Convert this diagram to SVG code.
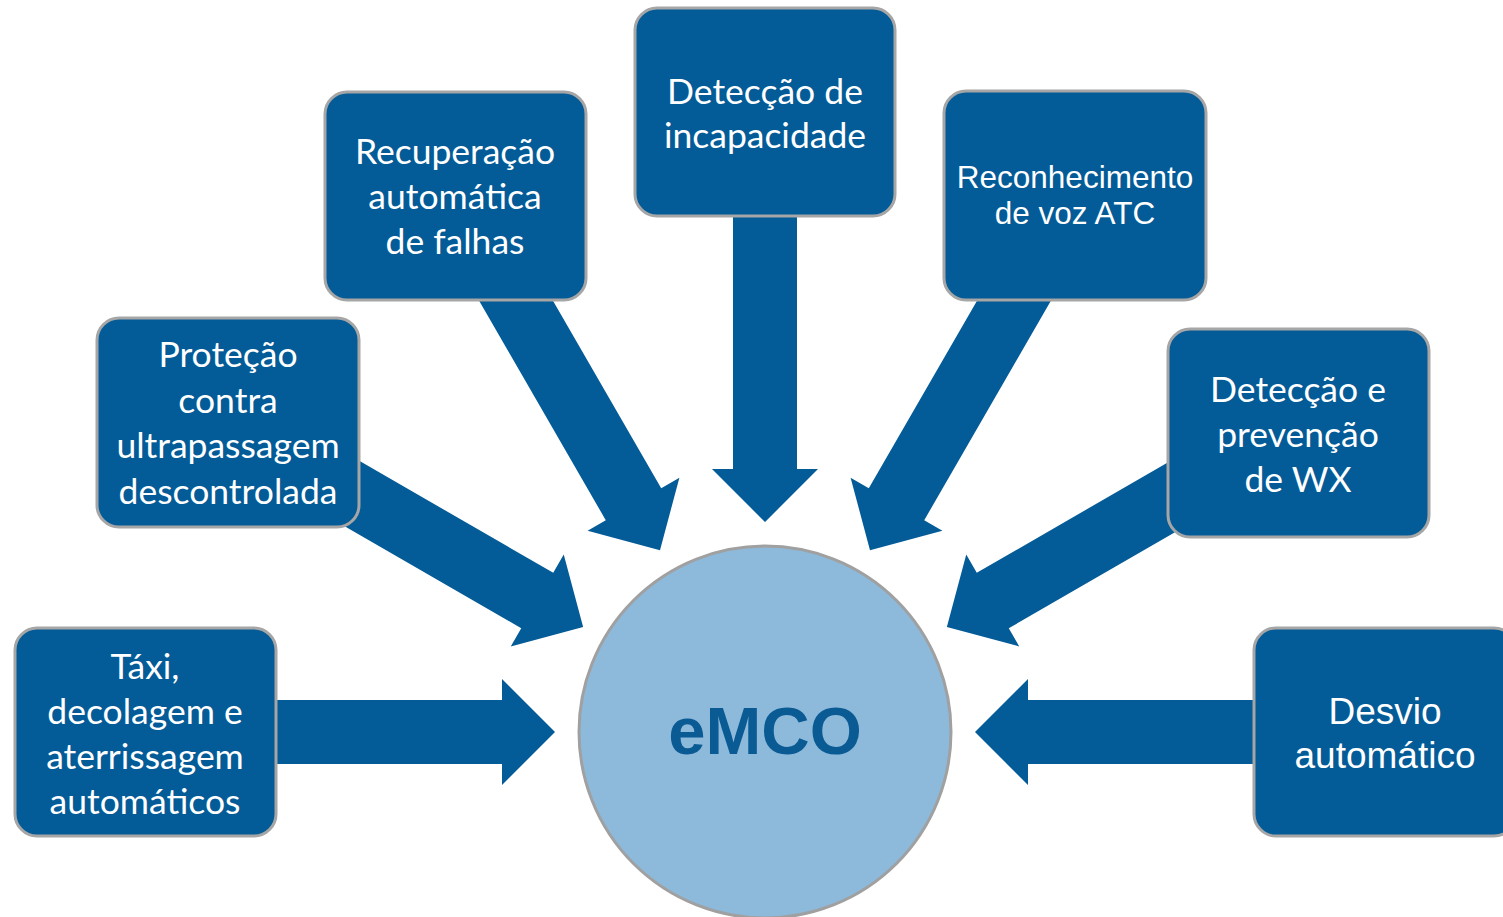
<svg xmlns="http://www.w3.org/2000/svg" width="1503" height="917" viewBox="0 0 1503 917">
<defs>
<style>
.box{fill:#035B97;stroke:#A6A6A6;stroke-width:3}
.arr{fill:#035B97}
.t{font-family:Lato,"Liberation Sans",sans-serif;font-size:35.5px;fill:#FFFFFF;text-anchor:middle}
.a{font-family:"Liberation Sans",Arial,sans-serif;fill:#FFFFFF;text-anchor:middle}
</style>
<polygon id="arrowShape" points="-540,-32 -263,-32 -263,-53 -210,0 -263,53 -263,32 -540,32"/>
</defs>
<rect width="1503" height="917" fill="#FFFFFF"/>
<g id="connectors">
<use href="#arrowShape" class="arr" transform="translate(765,732) rotate(0)"/>
<use href="#arrowShape" class="arr" transform="translate(765,732) rotate(30)"/>
<use href="#arrowShape" class="arr" transform="translate(765,732) rotate(60)"/>
<use href="#arrowShape" class="arr" transform="translate(765,732) rotate(90)"/>
<use href="#arrowShape" class="arr" transform="translate(765,732) rotate(120)"/>
<use href="#arrowShape" class="arr" transform="translate(765,732) rotate(150)"/>
<use href="#arrowShape" class="arr" transform="translate(765,732) rotate(180)"/>
</g>
<g id="emco">
<circle cx="765" cy="732" r="186" fill="#8DB9DB" stroke="#A0A0A0" stroke-width="3"/>
<text x="765" y="754" font-family="'Liberation Sans',Arial,sans-serif" font-weight="bold" font-size="67" fill="#0A5A94" text-anchor="middle">eMCO</text>
</g>
<g id="taxi">
<rect class="box" x="15" y="628" width="261" height="208" rx="22"/>
<text class="t" x="145" y="679">Táxi,</text>
<text class="t" x="145" y="724">decolagem e</text>
<text class="t" x="145" y="769">aterrissagem</text>
<text class="t" x="145" y="814">automáticos</text>
</g>
<g id="protecao">
<rect class="box" x="97" y="318" width="262" height="209" rx="22"/>
<text class="t" x="228" y="367">Proteção</text>
<text class="t" x="228" y="413">contra</text>
<text class="t" x="228" y="458">ultrapassagem</text>
<text class="t" x="228" y="504">descontrolada</text>
</g>
<g id="recuperacao">
<rect class="box" x="325" y="92" width="261" height="208" rx="22"/>
<text class="t" x="455" y="164">Recuperação</text>
<text class="t" x="455" y="209">automática</text>
<text class="t" x="455" y="254">de falhas</text>
</g>
<g id="incapacidade">
<rect class="box" x="635" y="8" width="260" height="208" rx="22"/>
<text class="t" x="765" y="104">Detecção de</text>
<text class="t" x="765" y="148">incapacidade</text>
</g>
<g id="voz">
<rect class="box" x="944" y="91" width="262" height="209" rx="22"/>
<text class="a" x="1075" y="188" font-size="31.5">Reconhecimento</text>
<text class="a" x="1075" y="224" font-size="31.5">de voz ATC</text>
</g>
<g id="wx">
<rect class="box" x="1168" y="329" width="261" height="208" rx="22"/>
<text class="t" x="1298" y="402">Detecção e</text>
<text class="t" x="1298" y="447">prevenção</text>
<text class="t" x="1298" y="492">de WX</text>
</g>
<g id="desvio">
<rect class="box" x="1254" y="628" width="262" height="208" rx="22"/>
<text class="a" x="1385" y="724" font-size="37">Desvio</text>
<text class="a" x="1385" y="768" font-size="37">automático</text>
</g>
</svg>
